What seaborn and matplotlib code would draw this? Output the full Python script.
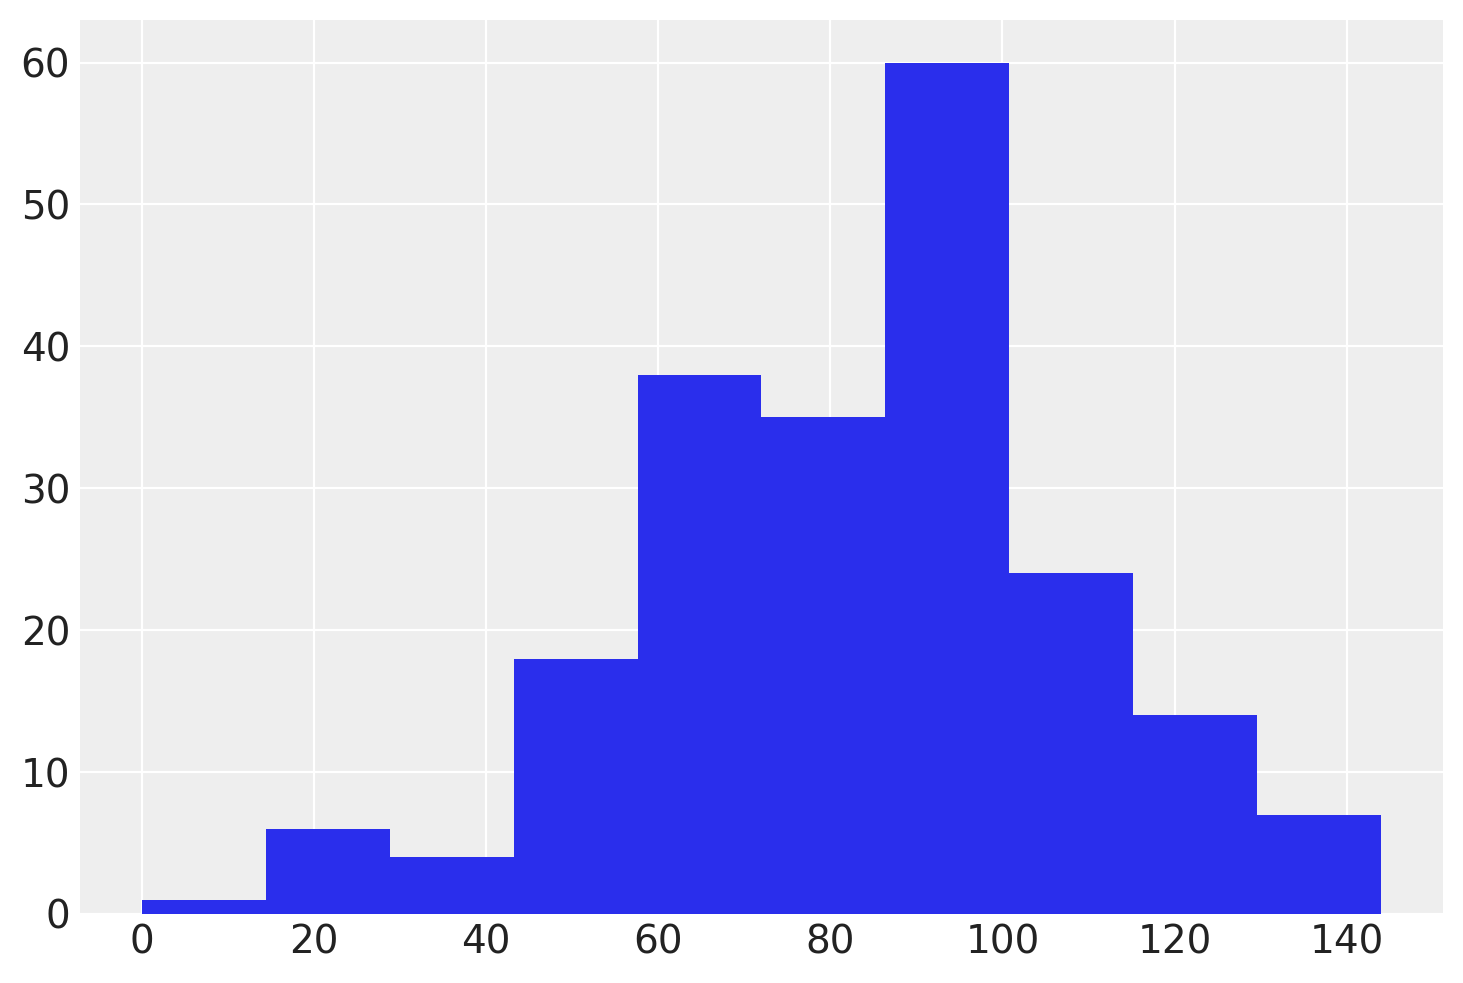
import matplotlib
matplotlib.use("Agg")
import matplotlib.pyplot as plt
import seaborn as sns
import numpy as np

bin_edges = [0, 14.4, 28.8, 43.2, 57.6, 72.0, 86.4, 100.8, 115.2, 129.6, 144.0]
counts = [1, 6, 4, 18, 38, 35, 60, 24, 14, 7]
x_ticks = [0, 20, 40, 60, 80, 100, 120, 140]
y_ticks = [0, 10, 20, 30, 40, 50, 60]

sns.set_theme(style="darkgrid", rc={
    "axes.facecolor": "#eeeeee",
    "grid.color": "white",
    "grid.linewidth": 0.8,
    "axes.edgecolor": "white",
})
plt.rcParams['font.family'] = ['DejaVu Sans']

fig = plt.figure(figsize=(7.315, 4.915), dpi=200)
ax = fig.add_axes([0.0547, 0.0702, 0.9316, 0.9095])

centers = [(bin_edges[i] + bin_edges[i + 1]) / 2 for i in range(len(counts))]
sns.histplot(x=centers, weights=counts, bins=bin_edges, ax=ax,
             color="#2a2eec", alpha=1, linewidth=0, edgecolor="none")

ax.set_xlim(-7.2, 151.2)
ax.set_ylim(0, 63)
ax.set_xticks(x_ticks)
ax.set_yticks(y_ticks)
ax.set_xlabel("")
ax.set_ylabel("")
ax.tick_params(labelsize=14, colors="#222222", length=0, pad=3.5)
for s in ax.spines.values():
    s.set_visible(False)

fig.savefig("out.png", dpi=200)
